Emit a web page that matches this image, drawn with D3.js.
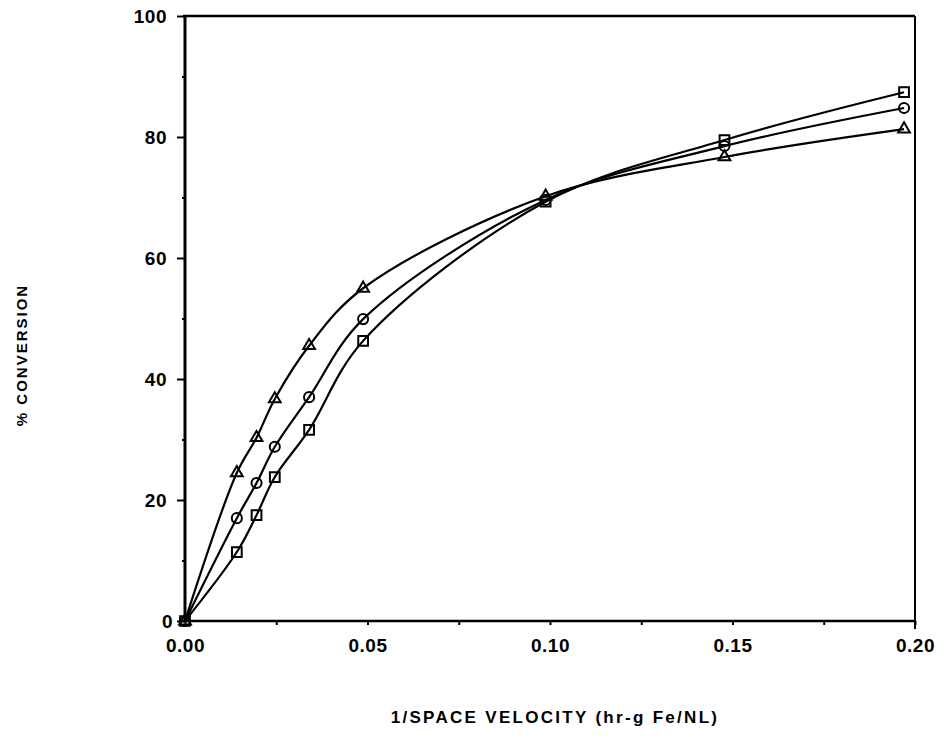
<!DOCTYPE html>
<html>
<head>
<meta charset="utf-8">
<script src="https://cdn.jsdelivr.net/npm/d3@7"></script>
<style>
  body { margin: 0; background: #fff; }
  text { font-family: "Liberation Sans", Arial, Helvetica, sans-serif; fill: #000; }
</style>
</head>
<body>
<script>
// chart size
var width = 944, height = 755;

// data
var xValues = [0, 0.0142, 0.0196, 0.0246, 0.0340, 0.0488, 0.0988, 0.1478, 0.1970];
var triangleSeries = [0, 24.5, 30.3, 36.7, 45.5, 55.0, 70.2, 76.7, 81.3];
var circleSeries = [0, 17.0, 22.8, 28.8, 37.0, 49.9, 69.6, 78.5, 84.8];
var squareSeries = [0, 11.4, 17.5, 23.8, 31.6, 46.3, 69.3, 79.5, 87.4];
var xTickLabels = ["0.00", "0.05", "0.10", "0.15", "0.20"];
var yTickLabels = ["0", "20", "40", "60", "80", "100"];

var series = [
  {name: "triangle", values: triangleSeries, symbol: d3.symbolTriangle, size: 60},
  {name: "circle", values: circleSeries, symbol: d3.symbolCircle, size: 80},
  {name: "square", values: squareSeries, symbol: d3.symbolSquare, size: 95}
];

var svg = d3.select("body")
  .append("svg")
  .attr("width", width)
  .attr("height", height);

// scales
var xScale = d3.scaleLinear().domain([0, 0.20]).range([185, 915]);
var yScale = d3.scaleLinear().domain([0, 100]).range([621, 16]);

// frame top + right
svg.append("line")
  .attr("x1", xScale(0) - 2).attr("x2", xScale(0.20))
  .attr("y1", yScale(100)).attr("y2", yScale(100))
  .attr("stroke", "#000").attr("stroke-width", 2.5);
svg.append("line")
  .attr("x1", xScale(0.20)).attr("x2", xScale(0.20))
  .attr("y1", yScale(100)).attr("y2", yScale(0) + 8)
  .attr("stroke", "#000").attr("stroke-width", 2);

// x axis
var xAxis = d3.axisBottom(xScale)
  .tickValues(d3.range(0, 0.2001, 0.025))
  .tickSize(4)
  .tickFormat(function(d) {
    var i = Math.round(d / 0.05);
    return Math.abs(d - i * 0.05) < 1e-6 ? xTickLabels[i] : "";
  });
var xg = svg.append("g")
  .attr("transform", "translate(0," + yScale(0) + ")")
  .call(xAxis);
xg.select(".domain").attr("stroke-width", 2.5).attr("d", "M" + (xScale(0) - 2) + ",0H" + xScale(0.20));
xg.selectAll(".tick line").attr("stroke-width", 2);
xg.selectAll(".tick text")
  .attr("y", 18)
  .style("font-size", "19px")
  .style("font-weight", "bold")
  .style("letter-spacing", "0.5px");

// y axis
var yAxis = d3.axisLeft(yScale)
  .tickValues(d3.range(0, 101, 10))
  .tickSize(0)
  .tickFormat(function(d) { return d % 20 === 0 ? yTickLabels[d / 20] : ""; });
var yg = svg.append("g")
  .attr("transform", "translate(" + xScale(0) + ",0)")
  .call(yAxis);
yg.select(".domain").attr("stroke-width", 3).attr("d", "M0," + (yScale(0) + 1) + "V" + yScale(100));
yg.selectAll(".tick line")
  .attr("x2", function(d) { return d % 20 === 0 ? -8 : -3; })
  .attr("stroke-width", 2);
yg.selectAll(".tick text")
  .attr("x", function(d) { return d === 0 ? -12 : -18; })
  .attr("dy", "0.35em")
  .style("font-size", "19px")
  .style("font-weight", "bold")
  .style("letter-spacing", "0.5px");

// axis titles
svg.append("text")
  .attr("x", 555).attr("y", 723)
  .attr("text-anchor", "middle")
  .style("font-size", "17px")
  .style("font-weight", "bold")
  .style("letter-spacing", "2.3px")
  .text("1/SPACE VELOCITY (hr-g Fe/NL)");

svg.append("text")
  .attr("transform", "translate(27,355) rotate(-90)")
  .attr("text-anchor", "middle")
  .style("font-size", "15px")
  .style("font-weight", "bold")
  .style("letter-spacing", "2px")
  .text("% CONVERSION");

// curves
var line = d3.line()
  .x(function(d) { return xScale(d[0]); })
  .y(function(d) { return yScale(d[1]); })
  .curve(d3.curveCatmullRom.alpha(0.5));

series.forEach(function(s) {
  var pts = xValues.map(function(x, i) { return [x, s.values[i]]; });

  svg.append("path")
    .datum(pts)
    .attr("d", line)
    .attr("fill", "none")
    .attr("stroke", "#000")
    .attr("stroke-width", 2.2);

  svg.selectAll(".m-" + s.name)
    .data(pts)
    .enter()
    .append("path")
    .attr("class", "m-" + s.name)
    .attr("transform", function(d) { return "translate(" + xScale(d[0]) + "," + yScale(d[1]) + ")"; })
    .attr("d", d3.symbol().type(s.symbol).size(s.size))
    .attr("fill", "none")
    .attr("stroke", "#000")
    .attr("stroke-width", 2);
});
</script>
</body>
</html>
